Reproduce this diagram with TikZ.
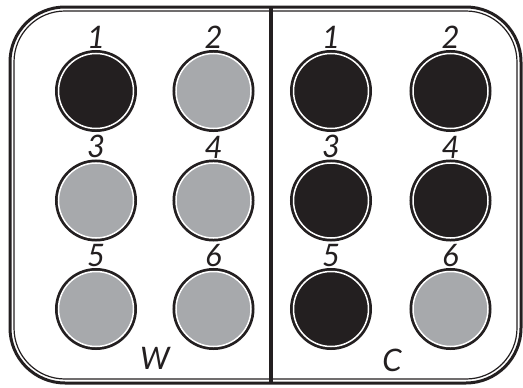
\documentclass[tikz,border=0pt]{standalone}
\usepackage{fontspec}
\setsansfont{Lato}
\usetikzlibrary{positioning}
\definecolor{wellblack}{HTML}{231F20}
\definecolor{wellgray}{HTML}{A7A9AC}

\begin{document}
\begin{tikzpicture}[
  x=1pt, y=-1pt,
  frame/.style={draw=wellblack, line width=3pt, rounded corners=55pt},
  innerframe/.style={draw=wellblack, line width=1.2pt, rounded corners=51pt},
  well/.style={circle, minimum size=75pt, inner sep=0pt, fill=#1, draw=white, line width=1.5pt, preaction={draw=wellblack, line width=7pt}},
  num/.style={inner sep=0pt, font=\fontsize{31}{31}\selectfont\sffamily\itshape, text=wellblack},
  side/.style={num}
]
  \useasboundingbox (0,0) rectangle (523,388);
  \draw[frame] (10,7) rectangle (521,383);
  \draw[innerframe] (14,11) rectangle (517,379);
  \coordinate (divtop) at (271,7);
  \coordinate (divbot) at (271,383);
  \draw[draw=wellblack, line width=3.5pt] (divtop) -- (divbot);

  % left tray W
  \node[well=wellblack] (w1) at (96,91) {};
  \node[well=wellgray, right=41pt of w1] (w2) {};
  \node[well=wellgray, below=33pt of w1] (w3) {};
  \node[well=wellgray, right=41pt of w3] (w4) {};
  \node[well=wellgray, below=32pt of w3] (w5) {};
  \node[well=wellgray, right=41pt of w5] (w6) {};
  % right tray C
  \node[well=wellblack] (c1) at (331,91) {};
  \node[well=wellblack, right=43pt of c1] (c2) {};
  \node[well=wellblack, below=33pt of c1] (c3) {};
  \node[well=wellblack, right=43pt of c3] (c4) {};
  \node[well=wellblack, below=32pt of c3] (c5) {};
  \node[well=wellgray, right=43pt of c5] (c6) {};

  \foreach \t in {w,c}
    \foreach \i in {1,...,6}
      \node[num, above=4pt of \t\i] (\t\i n) {\i};

  \node[side] (wlab) at (155,358) {W};
  \node[side] (clab) at (392,360) {C};
\end{tikzpicture}
\end{document}
